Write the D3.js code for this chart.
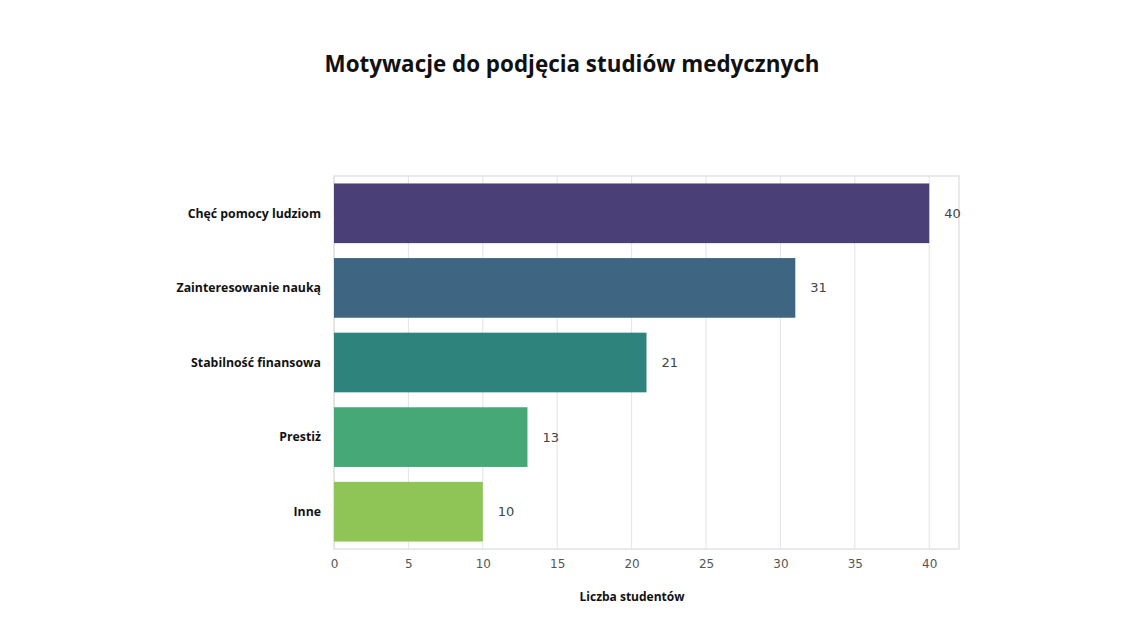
<!DOCTYPE html>
<html lang="pl">
<head>
    <meta charset="UTF-8">
    <title>Motywacje do podjęcia studiów medycznych</title>
    <script src="https://cdn.jsdelivr.net/npm/d3@7"></script>
    <style>
        body { margin: 0; background: #fff; }
    </style>
</head>
<body>
<script>
    // dane
    const categories = ['Chęć pomocy ludziom', 'Zainteresowanie nauką', 'Stabilność finansowa', 'Prestiż', 'Inne'];
    const values = [40, 31, 21, 13, 10];
    const colors = ['#4b3f78', '#3e6581', '#2e837c', '#46a877', '#8fc556'];
    const xTicks = [0, 5, 10, 15, 20, 25, 30, 35, 40];

    const W = 1129, H = 633;
    const m = { left: 334, right: 170, top: 176, bottom: 84 };

    const svg = d3.select('body').append('svg')
        .attr('width', W)
        .attr('height', H);

    const x = d3.scaleLinear()
        .domain([0, 42])
        .range([m.left, W - m.right]);

    const y = d3.scaleBand()
        .domain(categories)
        .range([m.top, H - m.bottom])
        .paddingInner(0.2)
        .paddingOuter(0.1);

    // siatka
    svg.append('g')
        .selectAll('line')
        .data(xTicks)
        .enter().append('line')
        .attr('x1', d => x(d)).attr('x2', d => x(d))
        .attr('y1', m.top).attr('y2', H - m.bottom)
        .attr('stroke', '#e3e3e3')
        .attr('stroke-width', 1);

    // ramka
    svg.append('rect')
        .attr('x', m.left).attr('y', m.top)
        .attr('width', x(42) - m.left)
        .attr('height', H - m.bottom - m.top)
        .attr('fill', 'none')
        .attr('stroke', '#dcdcdc')
        .attr('stroke-width', 1.2);

    // słupki
    svg.append('g')
        .selectAll('rect')
        .data(values)
        .enter().append('rect')
        .attr('x', x(0))
        .attr('y', (d, i) => y(categories[i]))
        .attr('width', d => x(d) - x(0))
        .attr('height', y.bandwidth())
        .attr('fill', (d, i) => colors[i]);

    // etykiety wartości
    svg.append('g')
        .selectAll('text')
        .data(values)
        .enter().append('text')
        .attr('x', d => x(d) + 15)
        .attr('y', (d, i) => y(categories[i]) + y.bandwidth() / 2)
        .attr('dy', '0.35em')
        .attr('font-family', 'DejaVu Sans, sans-serif')
        .attr('font-size', '13px')
        .attr('fill', '#444')
        .text(d => d);

    // oś X
    const xAxis = svg.append('g')
        .attr('transform', `translate(0,${H - m.bottom})`)
        .call(d3.axisBottom(x).tickValues(xTicks).tickSize(0).tickPadding(10));
    xAxis.select('.domain').remove();
    xAxis.selectAll('text')
        .attr('font-family', 'DejaVu Sans, sans-serif')
        .attr('font-size', '12px')
        .attr('fill', '#555');

    // etykiety kategorii
    svg.append('g')
        .selectAll('text')
        .data(categories)
        .enter().append('text')
        .attr('x', 321)
        .attr('y', d => y(d) + y.bandwidth() / 2)
        .attr('dy', '0.35em')
        .attr('text-anchor', 'end')
        .attr('font-family', 'Open Sans, sans-serif')
        .attr('font-weight', 'bold')
        .attr('font-size', '12.3px')
        .attr('fill', '#111')
        .text(d => d);

    // podpis osi
    svg.append('text')
        .attr('x', 632)
        .attr('y', 601)
        .attr('text-anchor', 'middle')
        .attr('font-family', 'Open Sans, sans-serif')
        .attr('font-weight', 'bold')
        .attr('font-size', '12px')
        .attr('fill', '#111')
        .text('Liczba studentów');

    // tytuł
    svg.append('text')
        .attr('x', 572)
        .attr('y', 72)
        .attr('text-anchor', 'middle')
        .attr('font-family', 'Open Sans, sans-serif')
        .attr('font-weight', 'bold')
        .attr('font-size', '22.4px')
        .attr('fill', '#111')
        .text('Motywacje do podjęcia studiów medycznych');
</script>
</body>
</html>
